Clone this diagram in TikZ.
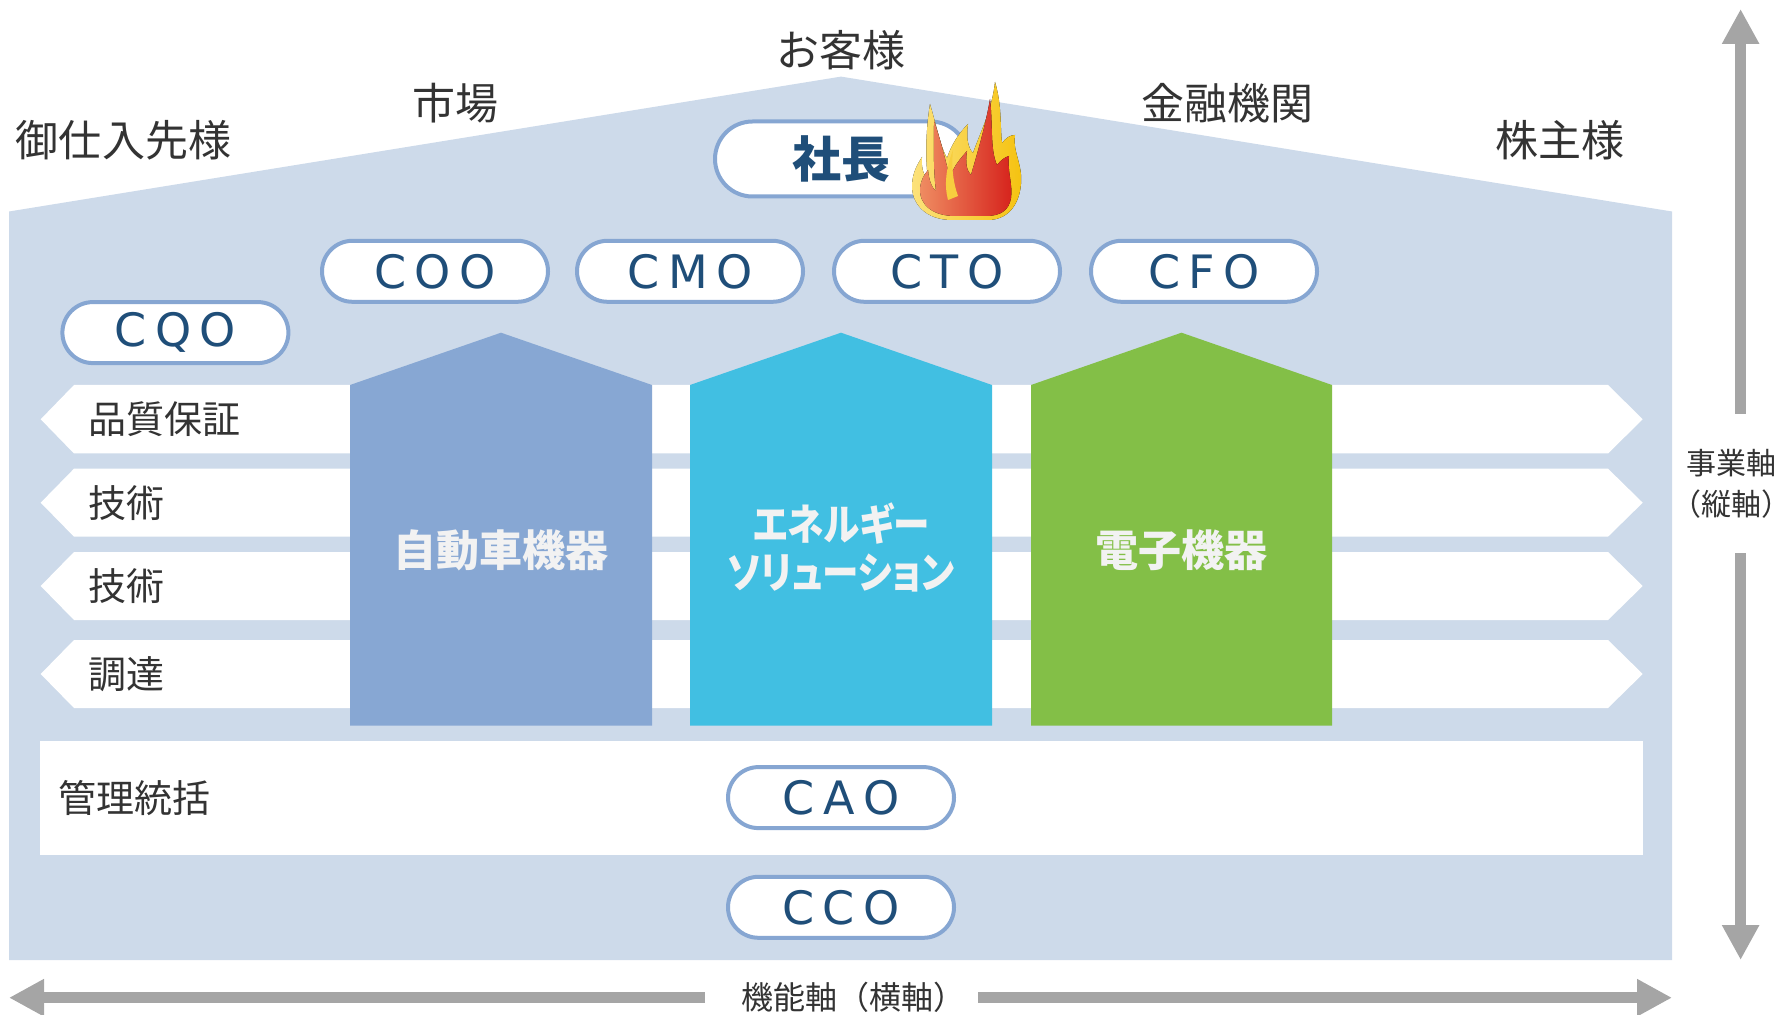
\documentclass[tikz,border=0pt]{standalone}
\usepackage{fontspec}
\usepackage{graphicx}
\usetikzlibrary{arrows.meta}
\newfontfamily\jp{Noto Sans CJK JP}
\newfontfamily\jpk[RawFeature=+palt]{Noto Sans CJK JP}
\newfontfamily\latn{DejaVu Sans}
\definecolor{house}{HTML}{CDDAEA}
\definecolor{pillline}{HTML}{86A6D2}
\definecolor{navy}{HTML}{1F4E79}
\definecolor{ink}{HTML}{333333}
\definecolor{autoblue}{HTML}{87A7D3}
\definecolor{energycyan}{HTML}{41BFE2}
\definecolor{elecgreen}{HTML}{83BF47}
\definecolor{axisgray}{HTML}{A5A5A5}
\definecolor{flameyellow}{HTML}{F5C20F}
\definecolor{flamelight}{HTML}{FCE27C}
\definecolor{flameorange}{HTML}{EF8D62}
\definecolor{flamered}{HTML}{D6221C}
\newlength\lsp
\setlength\lsp{4.2pt}
\newcommand\spell[3]{#1\kern\lsp#2\kern\lsp#3}
\newcommand\narrow[1]{\scalebox{0.85}[1]{#1}}
% half-width boxes for full-width brackets
\newcommand\lpar{\makebox[0.5em][r]{（}}
\newcommand\rpar{\makebox[0.5em][l]{）}}
\tikzset{
  pill/.style={draw=pillline, line width=2pt, fill=white, rounded corners=15.25pt,
    minimum width=113pt, minimum height=30.5pt, inner sep=0pt, text=navy,
    font=\latn\fontsize{23}{23}\selectfont},
  boss/.style={pill, minimum width=126.5pt, minimum height=37.5pt, rounded corners=18.75pt,
    font=\jp\bfseries\fontsize{24.5}{24.5}\selectfont},
  outlbl/.style={text=ink, inner sep=0pt, font=\jp\fontsize{21.5}{21.5}\selectfont},
  rowlbl/.style={text=ink, inner sep=0pt, anchor=west, font=\jp\fontsize{19}{19}\selectfont},
  pillarlbl/.style={text=white!95!black, inner sep=0pt, align=center,
    font=\jpk\bfseries\fontsize{21.5}{24}\selectfont},
  axislbl/.style={text=ink, inner sep=0pt, align=center, font=\jp\fontsize{16}{20.5}\selectfont},
  axis/.style={draw=axisgray, line width=5.7pt, -{Triangle[length=17.5pt, width=17.5pt]}},
  rowband/.style={fill=white},
}
\begin{document}
\begin{tikzpicture}[x=0.5pt, y=-0.5pt]
\useasboundingbox (0,0) rectangle (1792,1015);

% house body with gabled roof
\fill[house] (9,960) -- (9,211.5) -- (841,76.6) -- (1672,211.5) -- (1672,960) -- cycle;

% functional bands (arrow-shaped rows)
\foreach \t/\b in {385/453.5, 468.7/536.7, 552/620, 640/708}{
  \pgfmathsetmacro\m{(\t+\b)/2}
  \fill[rowband] (74,\t) -- (1608,\t) -- (1642.7,\m) -- (1608,\b) -- (74,\b) -- (40.7,\m) -- cycle;
}

% management band
\fill[white] (40,741) rectangle (1643,854.5);

% business pillars
\fill[autoblue] (350,725.7) -- (350,385) -- (501,332.7) -- (652,385) -- (652,725.7) -- cycle;
\fill[energycyan] (690,725.7) -- (690,385) -- (841,332.7) -- (992,385) -- (992,725.7) -- cycle;
\fill[elecgreen] (1031,725.7) -- (1031,385) -- (1181.5,332.7) -- (1332,385) -- (1332,725.7) -- cycle;

\node[pillarlbl] (auto) at (501,550) {自動車機器};
\node[pillarlbl] (energy) at (841,547) {\narrow{エネルギー}\\\narrow{ソリューション}};
\node[pillarlbl] (elec) at (1181.5,550) {電子機器};

% stakeholders
\node[outlbl] (customer) at (841,50) {お客様};
\node[outlbl] (market) at (455,103) {市場};
\node[outlbl] (supplier) at (123.5,140) {御仕入先様};
\node[outlbl] (finance) at (1227,103) {金融機関};
\node[outlbl] (holder) at (1560,140) {株主様};

% officers
\node[boss] (pres) at (841.5,159) {社長};
\node[pill] (coo) at (435,271.3) {\spell COO};
\node[pill] (cmo) at (690,271.3) {\spell CMO};
\node[pill] (cto) at (947,271.3) {\spell CTO};
\node[pill] (cfo) at (1204,271.3) {\spell CFO};
\node[pill] (cqo) at (175.4,332.6) {\spell CQO};
\node[pill] (cao) at (841,797.6) {\spell CAO};
\node[pill] (cco) at (841,907.3) {\spell CCO};

% function labels
\node[rowlbl] (qa) at (88,419.3) {品質保証};
\node[rowlbl] (tech1) at (88,502.7) {技術};
\node[rowlbl] (tech2) at (88,586) {技術};
\node[rowlbl] (proc) at (88,674) {調達};
\node[rowlbl] (mgmt) at (58,797.6) {管理統括};

% flame beside the president
\fill[left color=flamelight, right color=flameyellow]
  (952,220)
  .. controls (926,220) and (911,204) .. (912,184)
  .. controls (913,172) and (917,165) .. (922,157)
  .. controls (921,169) and (924,176) .. (928,179)
  .. controls (925,158) and (926,128) .. (930,104)
  .. controls (937,128) and (941,148) .. (947,158)
  .. controls (951,146) and (958,134) .. (968,124)
  .. controls (966,138) and (968,148) .. (973,153)
  .. controls (980,133) and (992,110) .. (995,82)
  .. controls (1002,105) and (1000,126) .. (1002,143)
  .. controls (1006,138) and (1010,135) .. (1015,135)
  .. controls (1012,150) and (1023,165) .. (1021,184)
  .. controls (1019,207) and (1006,220) .. (988,220)
  -- cycle;
\fill[left color=flameorange, right color=flamered]
  (955,216)
  .. controls (933,216) and (919,205) .. (920,188)
  .. controls (921,180) and (924,175) .. (928,170)
  .. controls (929,181) and (932,188) .. (936,191)
  .. controls (933,168) and (934,142) .. (934,121)
  .. controls (942,144) and (946,164) .. (950,177)
  .. controls (954,166) and (960,159) .. (967,151)
  .. controls (965,164) and (967,171) .. (971,175)
  .. controls (977,154) and (985,128) .. (990,99)
  .. controls (993,124) and (990,150) .. (997,165)
  .. controls (1001,160) and (1005,157) .. (1009,156)
  .. controls (1007,170) and (1013,185) .. (1011,198)
  .. controls (1009,210) and (1001,216) .. (986,216)
  -- cycle;
\fill[flameyellow!80!white]
  (948,200) .. controls (944,185) and (946,168) .. (953,150)
  .. controls (951,170) and (954,185) .. (958,196) -- cycle;

% axes
\coordinate (vtop) at (1740.6,9);
\coordinate (vtopstart) at (1740.6,413.7);
\coordinate (vbotstart) at (1740.6,553);
\coordinate (vbot) at (1740.6,960);
\coordinate (hleft) at (9,997.7);
\coordinate (hleftstart) at (705,997.7);
\coordinate (hrightstart) at (978,997.7);
\coordinate (hright) at (1672,997.7);
\draw[axis] (vtopstart) -- (vtop);
\draw[axis] (vbotstart) -- (vbot);
\draw[axis] (hleftstart) -- (hleft);
\draw[axis] (hrightstart) -- (hright);
\node[axislbl, font=\jp\fontsize{15}{20.5}\selectfont] (vaxis) at (1731,483.5) {事業軸\\\lpar 縦軸\rpar};
\node[axislbl] (haxis) at (853,997.7) {機能軸（横軸）};
\end{tikzpicture}
\end{document}
